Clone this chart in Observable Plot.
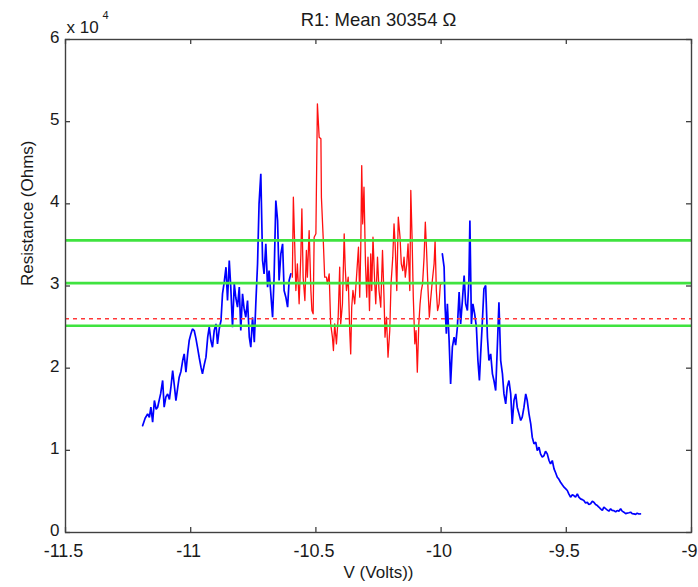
<!DOCTYPE html>
<html><head><meta charset="utf-8">
<script src="https://cdn.jsdelivr.net/npm/d3@7"></script>
<script src="https://cdn.jsdelivr.net/npm/@observablehq/plot@0.6"></script>
<style>body{margin:0;background:#fff}</style>
</head><body><div id="chart"></div>
<script>
// [V (Volts), Resistance (Ohms)]
const blueLeft = [
[-11.192,13000],[-11.182,13900],[-11.172,14440],[-11.165,14000],[-11.159,15250],[-11.152,13430],[-11.145,16060],[-11.138,15000],[-11.132,15250],
[-11.120,16900],[-11.112,18500],[-11.106,15250],[-11.099,16500],[-11.092,16870],[-11.085,16200],[-11.079,17680],[-11.072,19710],[-11.065,17800],[-11.059,16060],
[-11.052,17600],[-11.046,18900],[-11.039,19600],[-11.032,20930],[-11.026,21740],[-11.019,19510],[-11.012,21800],[-11.006,23360],[-10.999,24200],[-10.993,24780],
[-10.986,24580],[-10.979,23600],[-10.973,22550],[-10.966,21300],[-10.959,20120],[-10.953,19310],[-10.946,20400],[-10.939,21340],[-10.932,23800],[-10.926,24990],
[-10.919,23300],[-10.913,22550],[-10.906,24600],[-10.899,25390],[-10.893,22960],[-10.886,24800],[-10.879,25800],[-10.873,29040],[-10.866,30500],[-10.859,32290],
[-10.853,28230],[-10.846,33100],[-10.840,29860],[-10.833,24990],[-10.826,30260],[-10.820,28600],[-10.813,27420],
[-10.806,29860],[-10.800,24580],[-10.793,29040],[-10.787,27300],[-10.780,26200],[-10.773,28230],[-10.766,23770],
[-10.760,22550],[-10.753,26200],[-10.746,23160],[-10.740,27830],[-10.733,32700],[-10.727,40000],
[-10.720,43650],[-10.713,33100],[-10.707,31480],[-10.700,35130],[-10.693,29860],[-10.687,31880],
[-10.680,29040],[-10.673,26200],[-10.667,31070],[-10.660,40400],[-10.653,37970],[-10.647,30670],
[-10.640,33910],[-10.633,35130],[-10.627,29450],[-10.620,28640],[-10.613,27420],[-10.607,30670],
[-10.600,31480]
];
const redMid = [
[-10.594,31070],[-10.590,40810],[-10.584,34320],[-10.580,29450],[-10.574,32700],[-10.567,27830],
[-10.560,33910],[-10.556,39390],[-10.551,31070],[-10.544,28230],[-10.538,34320],[-10.534,31070],
[-10.527,36750],[-10.520,29450],[-10.516,27020],[-10.511,26610],[-10.507,35940],[-10.500,36350],
[-10.494,52170],[-10.487,48110],[-10.480,47910],[-10.478,40810],[-10.471,35940],[-10.465,31070],
[-10.458,31070],[-10.454,30260],[-10.447,31480],[-10.441,25390],[-10.434,23770],[-10.430,22150],
[-10.425,25390],[-10.418,22960],[-10.411,26200],[-10.405,32290],[-10.401,25390],[-10.394,27830],
[-10.387,36350],[-10.383,32290],[-10.378,29450],[-10.371,31070],[-10.365,24580],[-10.361,21740],
[-10.357,27420],[-10.352,29450],[-10.345,27830],[-10.337,31480],[-10.330,34720],[-10.325,28640],
[-10.321,34320],[-10.317,44660],[-10.313,37560],[-10.308,42030],[-10.302,32700],[-10.297,28640],
[-10.292,33510],[-10.286,27020],[-10.281,33910],[-10.277,29450],[-10.272,35940],[-10.266,31070],
[-10.261,27830],[-10.254,33510],[-10.248,29450],[-10.241,27420],[-10.234,34320],[-10.228,28640],
[-10.224,23770],[-10.218,26200],[-10.212,21340],[-10.205,24580],[-10.200,30260],[-10.193,33510],
[-10.188,37560],[-10.183,34720],[-10.177,29450],[-10.171,38380],[-10.164,35940],[-10.159,32700],
[-10.153,31880],[-10.148,33510],[-10.143,31070],[-10.137,32700],[-10.132,35130],[-10.125,29450],
[-10.121,41620],[-10.116,35940],[-10.111,28640],[-10.105,22960],[-10.100,24580],[-10.095,19510],
[-10.089,25390],[-10.084,27830],[-10.079,29450],[-10.074,30260],[-10.068,33510],[-10.063,37770],
[-10.058,34320],[-10.052,29450],[-10.047,26200],[-10.042,28230],[-10.035,30670],[-10.028,32700],
[-10.024,35540],[-10.019,29450],[-10.014,27020],[-10.008,27830],[-10.003,30260],[-9.998,30260]
];
const blueRight = [
[-9.995,33910],[-9.988,32290],[-9.984,27420],[-9.979,24180],[-9.975,27830],[-9.968,23370],
[-9.962,18090],[-9.955,22550],[-9.948,23770],[-9.942,22800],[-9.935,24990],[-9.928,29250],[-9.922,25390],
[-9.915,28230],[-9.908,31280],[-9.902,27830],[-9.895,27020],[-9.889,30670],[-9.885,37970],
[-9.879,25390],[-9.873,27830],[-9.866,26610],[-9.859,24990],[-9.853,20930],[-9.847,18500],
[-9.842,21740],[-9.835,25800],[-9.829,29650],[-9.822,30060],[-9.815,23770],[-9.809,20930],
[-9.802,21740],[-9.795,19310],[-9.789,18500],[-9.782,17280],[-9.775,22960],[-9.769,28030],
[-9.762,20930],[-9.755,19310],[-9.749,16870],[-9.742,15660],[-9.736,17690],[-9.729,18500],
[-9.722,16870],[-9.716,13220],[-9.709,16060],[-9.702,16870],[-9.696,15250],[-9.689,14440],
[-9.682,13630],[-9.676,14030],[-9.669,15250],[-9.662,16870],[-9.656,16060],[-9.649,14440],
[-9.642,13220],[-9.636,11600],[-9.629,10790],[-9.622,10990],[-9.616,9980],[-9.609,10380],
[-9.603,9570],[-9.596,9170],[-9.589,9370],[-9.583,9900],[-9.576,9570],[-9.569,8760],[-9.563,8350],
[-9.556,8760],[-9.549,7750],[-9.543,7300],[-9.536,6730],[-9.530,6500],[-9.523,6120],[-9.516,5800],[-9.509,5510],[-9.502,5300],[-9.496,5110],
[-9.490,4700],[-9.483,4300],[-9.476,4600],[-9.470,4500],[-9.463,4300],[-9.456,4700],[-9.450,4300],[-9.443,4090],[-9.436,4000],[-9.430,3890],[-9.423,3600],[-9.416,3690],
[-9.410,3400],[-9.403,3490],[-9.396,3800],[-9.390,3690],[-9.383,3400],[-9.376,3280],[-9.370,3100],[-9.363,2880],[-9.356,2700],[-9.350,3080],[-9.343,2900],[-9.337,2760],
[-9.330,2600],[-9.323,2880],[-9.317,2700],[-9.310,2670],[-9.303,2500],[-9.297,2670],[-9.290,2600],[-9.283,2880],[-9.277,2600],[-9.270,2470],[-9.263,2300],[-9.257,2350],
[-9.250,2400],[-9.243,2470],[-9.237,2300],[-9.230,2270],[-9.223,2200],[-9.217,2350],[-9.210,2250],[-9.204,2270]
];
const meanR = 30354;
const greenLines = [35554, 30354, 25154];
const dashedLine = [26000];
const xTicks = [-11.5, -11, -10.5, -10, -9.5, -9];
const yTicks = [0, 10000, 20000, 30000, 40000, 50000, 60000];
const titleText = "R1: Mean " + meanR + " Ω";
const xLabel = "V (Volts))";
const yLabel = "Resistance (Ohms)";
const exponentBase = "x 10";
const exponentPower = "4";

const font = "'Liberation Sans', Arial, Helvetica, sans-serif";
const axisColor = "#404040";
const W = 698, H = 587, mL = 65, mR = 7, mT = 39, mB = 55;
const frameW = W - mL - mR, frameH = H - mT - mB, tickLen = 5;
const chart = Plot.plot({
  width: W, height: H,
  marginLeft: mL, marginRight: mR, marginTop: mT, marginBottom: mB,
  style: {fontFamily: font, fontSize: "17px", background: "#fff", color: "#1a1a1a"},
  x: {domain: [-11.5, -9]},
  y: {domain: [0, 60000]},
  marks: [
    Plot.line(blueLeft, {x: d => d[0], y: d => d[1], stroke: "#0000ff", strokeWidth: 1.7, strokeLinejoin: "miter"}),
    Plot.line(redMid, {x: d => d[0], y: d => d[1], stroke: "#ff1010", strokeWidth: 1.3}),
    Plot.line(blueRight, {x: d => d[0], y: d => d[1], stroke: "#0000ff", strokeWidth: 1.7, strokeLinejoin: "miter"}),
    Plot.ruleY(greenLines, {stroke: "#3fe33f", strokeWidth: 2.6}),
    Plot.ruleY(dashedLine, {stroke: "#ff3838", strokeWidth: 1.5, strokeDasharray: "4,4"}),
    Plot.frame({stroke: axisColor, strokeWidth: 1.4}),
    Plot.tickX(xTicks, {x: d => d, insetTop: frameH - tickLen, stroke: axisColor, strokeWidth: 1.3}),
    Plot.tickX(xTicks, {x: d => d, insetBottom: frameH - tickLen, stroke: axisColor, strokeWidth: 1.3}),
    Plot.tickY(yTicks, {y: d => d, insetRight: frameW - tickLen, stroke: axisColor, strokeWidth: 1.3}),
    Plot.tickY(yTicks, {y: d => d, insetLeft: frameW - tickLen, stroke: axisColor, strokeWidth: 1.3}),
    Plot.axisX(xTicks, {anchor: "bottom", tickSize: 0, tickPadding: 12, dx: -2, tickFormat: d => String(d), label: null, fontSize: 18}),
    Plot.axisY(yTicks, {anchor: "left", tickSize: 0, tickPadding: 6, dy: -2, tickFormat: d => String(d / 10000), label: null, fontSize: 17}),
    Plot.text([titleText], {text: d => d, frameAnchor: "top", dy: -14, lineAnchor: "bottom", fontSize: 18.5}),
    Plot.text([xLabel], {text: d => d, frameAnchor: "bottom", dy: 45, lineAnchor: "bottom", fontSize: 17}),
    Plot.text([yLabel], {text: d => d, frameAnchor: "left", dx: -38, rotate: -90, lineAnchor: "middle", fontSize: 17}),
    Plot.text([exponentBase], {text: d => d, frameAnchor: "top-left", dx: 1, dy: -7, textAnchor: "start", lineAnchor: "bottom", fontSize: 17}),
    Plot.text([exponentPower], {text: d => d, frameAnchor: "top-left", dx: 37, dy: -21, textAnchor: "start", lineAnchor: "bottom", fontSize: 11})
  ]
});
document.getElementById("chart").appendChild(chart);
</script>
</body></html>
